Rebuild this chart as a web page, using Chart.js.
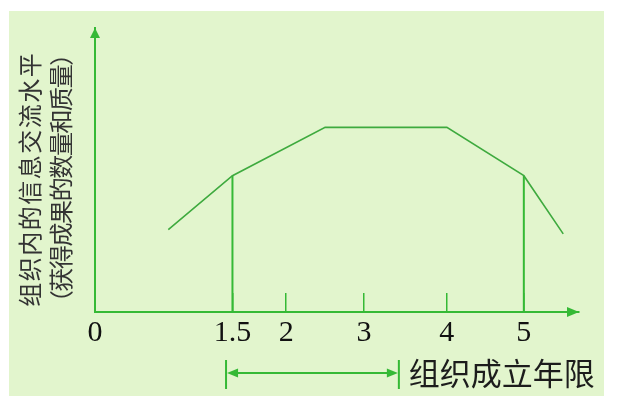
<!DOCTYPE html>
<html>
<head>
<meta charset="utf-8">
<script src="https://cdn.jsdelivr.net/npm/chart.js@4.4.1/dist/chart.umd.min.js"></script>
<style>
  html, body { margin: 0; background: #fff; }
  #wrap { width: 622px; height: 406px; }
</style>
</head>
<body>
<div id="wrap"><canvas id="chart"></canvas></div>
<script>
const YEAR_TICKS = [0, 1.5, 2, 3, 4, 5];
const TICK_LABELS = ["0", "1.5", "2", "3", "4", "5"];
const CURVE_YEARS = [0.8, 1.5, 2.5, 4, 5, 5.5];
const CURVE_LEVEL = [2.9, 4.8, 6.5, 6.5, 4.8, 2.75];
const DROP_YEARS = [1.5, 5];
const SPAN_YEARS = [1.43, 3.42];
const Y_TITLE = ["组织内的信息交流水平", "（获得成果的数量和质量）"];
const X_TITLE = "组织成立年限";

const AXIS_GREEN = "#35b935";
const LINE_GREEN = "#3eaa3e";

// the year axis of the sketch is not evenly spaced: value -> share of axis width
const xBends = [[0, 0], [1.5, 0.284], [2, 0.395], [3, 0.556], [4, 0.727], [5, 0.886], [5.7, 1]];

class BentScale extends Chart.LinearScale {
  static id = "bent";
  static defaults = Chart.LinearScale.defaults;

  getPixelForValue(value) {
    if (value === null || isNaN(value)) return NaN;
    let i = 1;
    while (i < xBends.length - 1 && value > xBends[i][0]) i++;
    const [v0, f0] = xBends[i - 1];
    const [v1, f1] = xBends[i];
    return this.getPixelForDecimal(f0 + ((value - v0) / (v1 - v0)) * (f1 - f0));
  }

  getValueForPixel(pixel) {
    const d = this.getDecimalForPixel(pixel);
    let i = 1;
    while (i < xBends.length - 1 && d > xBends[i][1]) i++;
    const [v0, f0] = xBends[i - 1];
    const [v1, f1] = xBends[i];
    return v0 + ((d - f0) / (f1 - f0)) * (v1 - v0);
  }
}
Chart.register(BentScale);

const curve = CURVE_YEARS.map((x, i) => ({ x, y: CURVE_LEVEL[i] }));
const drops = DROP_YEARS.map((x) => {
  const level = CURVE_LEVEL[CURVE_YEARS.indexOf(x)];
  return {
    data: [{ x, y: 0 }, { x, y: level }],
    borderColor: AXIS_GREEN,
    borderWidth: 2,
    pointRadius: 0,
  };
});

function arrowHead(ctx, tipX, tipY, dx, dy, len, half) {
  // dx, dy: unit direction the arrow points to
  ctx.beginPath();
  ctx.moveTo(tipX, tipY);
  ctx.lineTo(tipX - dx * len - dy * half, tipY - dy * len + dx * half);
  ctx.lineTo(tipX - dx * len + dy * half, tipY - dy * len - dx * half);
  ctx.closePath();
  ctx.fill();
}

function columnText(ctx, text, cx, cy, size, step) {
  ctx.save();
  ctx.translate(cx, cy);
  ctx.rotate(-Math.PI / 2);
  ctx.font = `${size}px "Noto Sans CJK SC"`;
  ctx.textAlign = "center";
  ctx.textBaseline = "middle";
  const chars = [...text];
  const start = -((chars.length - 1) * step) / 2;
  chars.forEach((c, i) => ctx.fillText(c, start + i * step, 0));
  ctx.restore();
}

const scene = {
  id: "scene",
  beforeDraw(chart) {
    const ctx = chart.ctx;
    ctx.save();
    ctx.fillStyle = "#fff";
    ctx.fillRect(0, 0, chart.width, chart.height);
    ctx.fillStyle = "#e2f5cd";
    ctx.fillRect(9, 11, 595, 385);
    ctx.restore();
  },
  afterDraw(chart) {
    const ctx = chart.ctx;
    const area = chart.chartArea;
    const xs = chart.scales.x;
    ctx.save();
    ctx.fillStyle = AXIS_GREEN;
    ctx.strokeStyle = AXIS_GREEN;

    // axis arrows
    arrowHead(ctx, area.right, area.bottom, 1, 0, 12, 5);
    arrowHead(ctx, area.left, area.top, 0, -1, 10, 5);

    // span marker under the axis
    const a = xs.getPixelForValue(SPAN_YEARS[0]);
    const b = xs.getPixelForValue(SPAN_YEARS[1]);
    const my = 373;
    ctx.lineWidth = 2;
    ctx.beginPath();
    ctx.moveTo(a + 4, my);
    ctx.lineTo(b - 4, my);
    ctx.moveTo(a, 360);
    ctx.lineTo(a, 389);
    ctx.moveTo(b, 360);
    ctx.lineTo(b, 389);
    ctx.stroke();
    arrowHead(ctx, a + 1, my, -1, 0, 11, 4.5);
    arrowHead(ctx, b - 1, my, 1, 0, 11, 4.5);

    // x title
    ctx.fillStyle = "#1c1c1c";
    ctx.font = '31px "Noto Sans CJK SC"';
    ctx.textAlign = "left";
    ctx.textBaseline = "middle";
    ctx.fillText(X_TITLE, b + 10, 373);

    // y title, two columns
    ctx.fillStyle = "#333";
    columnText(ctx, Y_TITLE[0], 30, 180, 24, 25.5);
    columnText(ctx, Y_TITLE[1], 61, 178, 24, 22.6);
    ctx.restore();
  },
};

new Chart(document.getElementById("chart"), {
  type: "line",
  data: {
    datasets: [
      {
        data: curve,
        borderColor: LINE_GREEN,
        borderWidth: 1.6,
        pointRadius: 0,
        tension: 0,
      },
      ...drops,
    ],
  },
  options: {
    responsive: true,
    maintainAspectRatio: false,
    animation: false,
    layout: { padding: { top: 28, right: 43, bottom: 0, left: 0 } },
    plugins: {
      legend: { display: false },
      tooltip: { enabled: false },
    },
    scales: {
      x: {
        type: "bent",
        min: 0,
        max: 5.7,
        afterBuildTicks: (scale) => {
          scale.ticks = YEAR_TICKS.map((v) => ({ value: v }));
        },
        afterFit: (scale) => {
          scale.height = 94;
        },
        ticks: {
          autoSkip: false,
          maxRotation: 0,
          padding: 22,
          color: "#111",
          font: { family: "Liberation Serif", size: 30 },
          callback: (v) => TICK_LABELS[YEAR_TICKS.indexOf(v)],
        },
        grid: {
          display: true,
          drawOnChartArea: false,
          drawTicks: true,
          tickLength: -19,
          color: AXIS_GREEN,
          lineWidth: 1.5,
        },
        border: { display: true, color: AXIS_GREEN, width: 2 },
      },
      y: {
        min: 0,
        max: 10,
        ticks: { display: false },
        grid: { display: false, drawTicks: false },
        border: { display: true, color: AXIS_GREEN, width: 2 },
        afterFit: (scale) => {
          scale.width = 95;
        },
      },
    },
  },
  plugins: [scene],
});
</script>
</body>
</html>
